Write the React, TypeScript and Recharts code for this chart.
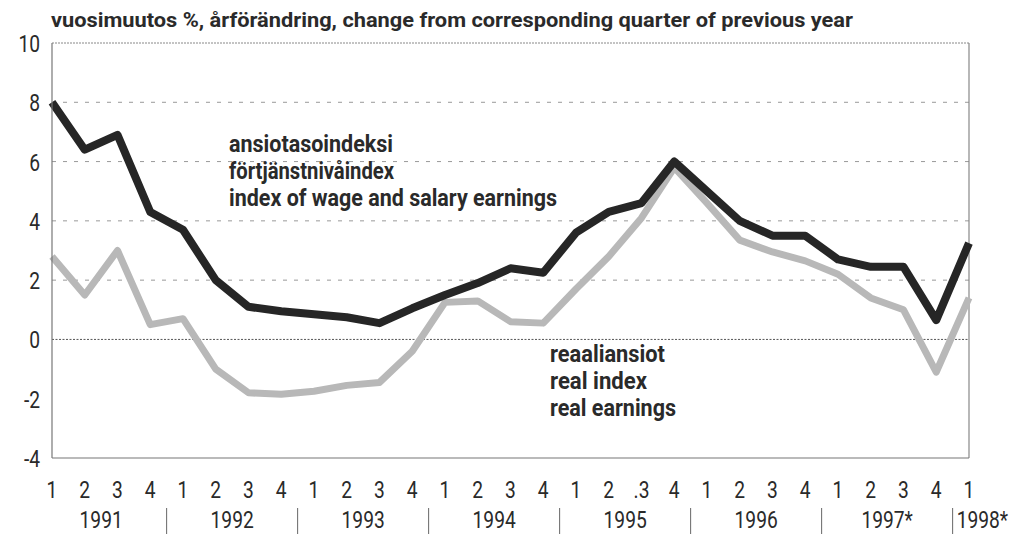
import { LineChart, Line, XAxis, YAxis, ReferenceLine } from "recharts";

// quarters 1991Q1 .. 1998Q1
const quarterLabels = [
  "1", "2", "3", "4",
  "1", "2", "3", "4",
  "1", "2", "3", "4",
  "1", "2", "3", "4",
  "1", "2", ".3", "4",
  "1", "2", "3", "4",
  "1", "2", "3", "4",
  "1",
];
const yearLabels = ["1991", "1992", "1993", "1994", "1995", "1996", "1997*", "1998*"];

// ansiotasoindeksi / index of wage and salary earnings
const wageIndex = [
  8.0, 6.4, 6.9, 4.3,
  3.7, 2.0, 1.1, 0.95,
  0.85, 0.75, 0.55, 1.05,
  1.5, 1.9, 2.4, 2.25,
  3.6, 4.3, 4.6, 6.0,
  5.0, 4.0, 3.5, 3.5,
  2.7, 2.45, 2.45, 0.65,
  3.25,
];
// reaaliansiot / real earnings
const realEarnings = [
  2.8, 1.5, 3.0, 0.5,
  0.7, -1.0, -1.8, -1.85,
  -1.75, -1.55, -1.45, -0.4,
  1.25, 1.3, 0.6, 0.55,
  1.7, 2.8, 4.1, 5.8,
  4.6, 3.35, 2.95, 2.65,
  2.2, 1.4, 1.0, -1.1,
  1.4,
];
const yTicks = [-4, -2, 0, 2, 4, 6, 8, 10];
const dashedGrid = [2, 4, 6, 8];

const title = "vuosimuutos %, årförändring, change from corresponding quarter of previous year";
const wageLabel = ["ansiotasoindeksi", "förtjänstnivåindex", "index of wage and salary earnings"];
const wageLabelW = [164, 165, 328];
const realLabel = ["reaaliansiot", "real index", "real earnings"];
const realLabelW = [115, 97, 126];

const W = 1013;
const H = 526;
const margin = { top: 35, right: 52, left: 0, bottom: 0 };
const Y_AXIS_W = 44;
const STEP = (W - Y_AXIS_W - margin.right) / (quarterLabels.length - 1);

const FONT = "Roboto, 'Liberation Sans', sans-serif";
const TEXT = "#2a2a2a";
const SQUEEZE = 0.8;

const data = quarterLabels.map((q, i) => ({
  idx: i,
  q,
  wage: wageIndex[i],
  real: realEarnings[i],
}));

function Narrow({ x, y, anchor, children }: { x: number; y: number; anchor: string; children: any }) {
  return (
    <text
      transform={`translate(${x},${y}) scale(${SQUEEZE},1)`}
      textAnchor={anchor as any}
      fontFamily={FONT}
      fontWeight={400}
      fontSize={24}
      fill={TEXT}
    >
      {children}
    </text>
  );
}

function QuarterTick(props: any) {
  const { x, y, payload } = props;
  const i = payload.value as number;
  const last = quarterLabels.length - 1;
  const yearNo = Math.floor(i / 4);
  return (
    <g>
      <Narrow x={x} y={y + 40} anchor="middle">
        {quarterLabels[i]}
      </Narrow>
      {i % 4 === 0 && i > 0 && (
        <line x1={x - STEP / 2} x2={x - STEP / 2} y1={y + 50} y2={y + 76} stroke="#666" strokeWidth={1} />
      )}
      {i % 4 === 1 && (
        <Narrow x={x + STEP / 2} y={y + 70} anchor="middle">
          {yearLabels[yearNo]}
        </Narrow>
      )}
      {i === last && i % 4 === 0 && (
        <Narrow x={x - STEP / 2 + 4} y={y + 70} anchor="start">
          {yearLabels[yearNo]}
        </Narrow>
      )}
    </g>
  );
}

function ValueTick(props: any) {
  const { x, y, payload } = props;
  return (
    <Narrow x={x} y={y + 9} anchor="end">
      {payload.value}
    </Narrow>
  );
}

export default function App() {
  return (
    <div style={{ position: "relative", width: W, height: H }}>
      <LineChart width={W} height={H} data={data} margin={margin}>
        <XAxis
          dataKey="idx"
          type="category"
          interval={0}
          height={76}
          tickLine={false}
          tickSize={0}
          tickMargin={0}
          axisLine={{ stroke: "#777", strokeWidth: 1.2 }}
          tick={<QuarterTick />}
        />
        <YAxis
          domain={[-4, 10]}
          ticks={yTicks}
          width={Y_AXIS_W}
          tickLine={false}
          tickSize={0}
          tickMargin={12}
          axisLine={{ stroke: "#777", strokeWidth: 1.2 }}
          tick={<ValueTick />}
        />
        {dashedGrid.map((v) => (
          <ReferenceLine key={v} y={v} stroke="#999" strokeDasharray="4 7" strokeWidth={1} />
        ))}
        <ReferenceLine y={10} stroke="#888" strokeDasharray="2 1" strokeWidth={1} />
        <ReferenceLine y={0} stroke="#555" strokeDasharray="2 1.5" strokeWidth={1} />
        <ReferenceLine x={quarterLabels.length - 1} stroke="#888" strokeWidth={1.2} />
        <Line
          dataKey="real"
          stroke="#b8b8b8"
          strokeWidth={7}
          dot={false}
          strokeLinejoin="round"
          isAnimationActive={false}
        />
        <Line
          dataKey="wage"
          stroke="#262626"
          strokeWidth={8}
          dot={false}
          strokeLinejoin="round"
          isAnimationActive={false}
        />
      </LineChart>
      <svg
        width={W}
        height={H}
        style={{ position: "absolute", left: 0, top: 0, pointerEvents: "none" }}
      >
        <text
          x={43}
          y={19}
          textLength={802}
          lengthAdjust="spacingAndGlyphs"
          fontFamily={FONT}
          fontWeight="bold"
          fontSize={21}
          fill={TEXT}
        >
          {title}
        </text>
        {wageLabel.map((t, k) => (
          <text
            key={t}
            x={221}
            y={144 + k * 27}
            textLength={wageLabelW[k]}
            lengthAdjust="spacingAndGlyphs"
            fontFamily={FONT}
            fontWeight="bold"
            fontSize={23}
            fill={TEXT}
          >
            {t}
          </text>
        ))}
        {realLabel.map((t, k) => (
          <text
            key={t}
            x={542}
            y={354 + k * 27}
            textLength={realLabelW[k]}
            lengthAdjust="spacingAndGlyphs"
            fontFamily={FONT}
            fontWeight="bold"
            fontSize={23}
            fill={TEXT}
          >
            {t}
          </text>
        ))}
      </svg>
    </div>
  );
}
